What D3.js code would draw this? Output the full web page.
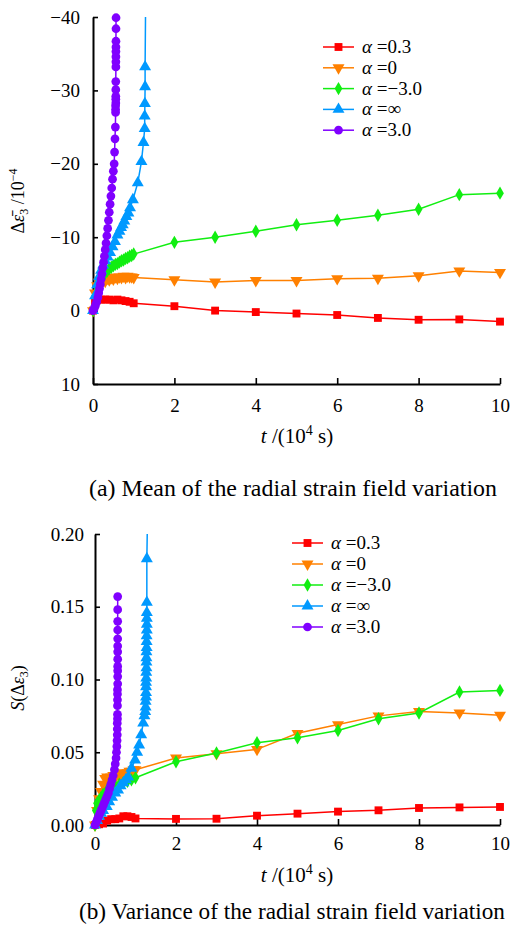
<!DOCTYPE html>
<html><head><meta charset="utf-8">
<script src="https://cdn.jsdelivr.net/npm/d3@7"></script>
<style>
body{margin:0;background:#fff;}
svg text{font-family:"Liberation Serif","Times New Roman",serif;fill:#000;}
</style>
</head><body>
<svg id="c" width="512" height="927"></svg>
<script>
// ---------- data ----------
const xTicks = [0, 2, 4, 6, 8, 10];
const meanYTicks = [-40, -30, -20, -10, 0, 10];
const varYTicks = [0, 0.05, 0.10, 0.15, 0.20];
const legendAlpha = ["0.3", "0", "\u22123.0", "\u221e", "3.0"];

// (a) mean of radial strain field variation (units 1e-4), t in 1e4 s
const meanT_03 = [0, 0.05, 0.1, 0.2, 0.3, 0.4, 0.5, 0.6, 0.7, 0.8, 0.9, 1, 2, 3, 4, 5, 6, 7, 8, 9, 10];
const meanV_03 = [0, -1.2, -1.4, -1.5, -1.5, -1.5, -1.4, -1.5, -1.4, -1.3, -1.2, -1.0, -0.6, 0, 0.2, 0.4, 0.6, 1.0, 1.25, 1.2, 1.5];
const meanT_0 = [0, 0.05, 0.1, 0.15, 0.2, 0.25, 0.3, 0.35, 0.4, 0.45, 0.5, 0.55, 0.6, 0.65, 0.7, 0.75, 0.8, 0.85, 0.9, 0.95, 1, 2, 3, 4, 5, 6, 7, 8, 9, 10];
const meanV_0 = [0, -2.4, -3.4, -3.9, -3.8, -4.2, -4.0, -4.4, -4.2, -4.5, -4.3, -4.6, -4.4, -4.6, -4.5, -4.7, -4.5, -4.7, -4.6, -4.6, -4.5, -4.2, -3.9, -4.1, -4.1, -4.35, -4.4, -4.75, -5.4, -5.2];
const meanT_m3 = [0, 0.05, 0.1, 0.15, 0.2, 0.25, 0.3, 0.35, 0.4, 0.45, 0.5, 0.55, 0.6, 0.65, 0.7, 0.75, 0.8, 0.85, 0.9, 0.95, 1, 2, 3, 4, 5, 6, 7, 8, 9, 10];
const meanV_m3 = [0, -2.0, -3.2, -3.9, -4.4, -4.8, -5.1, -5.4, -5.7, -5.9, -6.1, -6.3, -6.4, -6.6, -6.8, -6.9, -7.1, -7.2, -7.4, -7.5, -7.7, -9.3, -10.0, -10.8, -11.7, -12.3, -13.0, -13.8, -15.8, -16.0];
const meanT_inf = [0, 0.05, 0.1, 0.15, 0.2, 0.25, 0.3, 0.36, 0.42, 0.48, 0.54, 0.6, 0.65, 0.69, 0.73, 0.77, 0.82, 0.87, 0.91, 0.98, 1.1, 1.19, 1.24, 1.27, 1.27, 1.275, 1.28, 1.28];
const meanV_inf = [0, -2.0, -3.5, -4.6, -5.5, -6.2, -6.8, -7.3, -7.9, -8.7, -9.4, -10.3, -10.8, -11.3, -11.7, -12.2, -12.8, -13.3, -14.0, -15.1, -17.4, -20.3, -22.9, -24.8, -26.5, -28.2, -30.5, -33.2];
const meanTail_inf = [1.29, -40];
const meanT_3 = [0, 0.03, 0.06, 0.09, 0.12, 0.14, 0.16, 0.18, 0.20, 0.22, 0.24, 0.26, 0.28, 0.30, 0.32, 0.34, 0.36, 0.38, 0.40, 0.42, 0.44, 0.46, 0.48, 0.50, 0.52, 0.53, 0.54, 0.55, 0.555, 0.555, 0.555, 0.56, 0.56, 0.56, 0.56, 0.56, 0.562, 0.562, 0.563, 0.563, 0.564, 0.564, 0.565, 0.566];
const meanV_3 = [0, -0.3, -0.7, -1.2, -1.8, -2.4, -3.0, -3.6, -4.3, -5.0, -5.8, -6.6, -7.4, -8.3, -9.2, -10.2, -11.2, -12.3, -13.4, -14.5, -15.6, -16.7, -17.9, -19.0, -20.0, -21.6, -23.4, -25.0, -27.0, -27.4, -27.9, -28.3, -28.8, -29.2, -30.1, -31.2, -33.2, -33.9, -34.6, -35.3, -35.9, -36.7, -38.4, -39.9];

// (b) variance of radial strain field variation
const varT_03 = [0, 0.1, 0.2, 0.3, 0.4, 0.5, 0.6, 0.7, 0.8, 0.9, 1, 2, 3, 4, 5, 6, 7, 8, 9, 10];
const varV_03 = [0, 0.0005, 0.001, 0.003, 0.004, 0.004, 0.0045, 0.006, 0.006, 0.0055, 0.0045, 0.0042, 0.0043, 0.0064, 0.0078, 0.0092, 0.0101, 0.0117, 0.0121, 0.0124];
const varT_0 = [0, 0.05, 0.1, 0.15, 0.2, 0.25, 0.3, 0.35, 0.4, 0.45, 0.5, 0.55, 0.6, 0.65, 0.7, 0.75, 0.8, 0.85, 0.9, 0.95, 1, 2, 3, 4, 5, 6, 7, 8, 9, 10];
const varV_0 = [0, 0.010, 0.018, 0.023, 0.028, 0.032, 0.033, 0.031, 0.033, 0.034, 0.033, 0.035, 0.034, 0.035, 0.036, 0.035, 0.036, 0.037, 0.037, 0.038, 0.038, 0.046, 0.049, 0.052, 0.063, 0.069, 0.075, 0.078, 0.077, 0.0755];
const varT_m3 = [0, 0.02, 0.05, 0.1, 0.15, 0.2, 0.3, 0.4, 0.5, 0.6, 0.7, 0.8, 0.9, 1, 2, 3, 4, 5, 6, 7, 8, 9, 10];
const varV_m3 = [0, 0.010, 0.015, 0.017, 0.019, 0.021, 0.024, 0.026, 0.027, 0.028, 0.029, 0.030, 0.031, 0.0325, 0.0435, 0.0495, 0.0566, 0.060, 0.065, 0.073, 0.077, 0.0914, 0.0925];
const varT_inf = [0, 0.05, 0.1, 0.15, 0.2, 0.29, 0.35, 0.42, 0.5, 0.57, 0.63, 0.7, 0.76, 0.82, 0.9, 0.99, 1.04, 1.09, 1.14, 1.19, 1.22, 1.24, 1.25, 1.25, 1.26, 1.26, 1.26, 1.26, 1.265, 1.265, 1.27, 1.27, 1.27, 1.27, 1.275, 1.275, 1.275, 1.28, 1.28, 1.28, 1.28, 1.28, 1.28];
const varV_inf = [0, 0.003, 0.006, 0.008, 0.010, 0.0126, 0.016, 0.019, 0.022, 0.024, 0.027, 0.029, 0.031, 0.033, 0.039, 0.0447, 0.050, 0.055, 0.062, 0.070, 0.075, 0.078, 0.081, 0.085, 0.088, 0.091, 0.095, 0.098, 0.101, 0.105, 0.108, 0.112, 0.115, 0.119, 0.122, 0.126, 0.130, 0.134, 0.138, 0.142, 0.146, 0.153, 0.183];
const varTail_inf = [1.29, 0.20];
const varT_3 = [0, 0.03, 0.06, 0.09, 0.12, 0.15, 0.18, 0.21, 0.24, 0.27, 0.30, 0.33, 0.36, 0.39, 0.42, 0.45, 0.48, 0.50, 0.52, 0.53, 0.54, 0.545, 0.55, 0.55, 0.55, 0.555, 0.555, 0.555, 0.555, 0.555, 0.555, 0.56, 0.56, 0.56, 0.56, 0.56, 0.56, 0.56, 0.56, 0.56, 0.56, 0.56, 0.56];
const varV_3 = [0, 0.002, 0.004, 0.006, 0.008, 0.010, 0.012, 0.014, 0.016, 0.018, 0.020, 0.022, 0.025, 0.028, 0.031, 0.034, 0.038, 0.042, 0.046, 0.050, 0.054, 0.058, 0.062, 0.066, 0.070, 0.073, 0.076, 0.082, 0.086, 0.090, 0.093, 0.097, 0.102, 0.106, 0.109, 0.114, 0.119, 0.123, 0.128, 0.134, 0.140, 0.148, 0.157];
const varTail_3 = [0.56, 0.20];

// ---------- styles ----------
const colors = ["#ff0000", "#ff8000", "#11ee11", "#0099ff", "#8000ff"];
const symbols = [
  {type: d3.symbolSquare, size: 62, rot: 0},
  {type: d3.symbolTriangle, size: 62, rot: 180},
  {type: d3.symbolDiamond, size: 52, rot: 0},
  {type: d3.symbolTriangle, size: 62, rot: 0},
  {type: d3.symbolCircle, size: 60, rot: 0}
];

const svg = d3.select("#c");
const zip = (t, v) => t.map((d, i) => [d, v[i]]);

function panel(cfg) {
  const x = d3.scaleLinear().domain([0, 10]).range(cfg.xr);
  const y = d3.scaleLinear().domain(cfg.yd).range(cfg.yr);
  const g = svg.append("g");

  const ya = g.append("g").attr("transform", `translate(${cfg.xr[0]},0)`)
    .call(d3.axisLeft(y).tickValues(cfg.yTicks).tickSizeInner(-5).tickSizeOuter(0)
      .tickPadding(cfg.yPad).tickFormat(cfg.yFmt));
  const xa = g.append("g").attr("transform", `translate(0,${cfg.yr[0]})`)
    .call(d3.axisBottom(x).tickValues(xTicks).tickSizeInner(-6).tickSizeOuter(0)
      .tickPadding(cfg.xPad).tickFormat(d3.format("d")));
  [ya, xa].forEach(a => {
    a.select(".domain").attr("stroke", "#000").attr("stroke-width", 2);
    a.selectAll(".tick line").attr("stroke", "#000").attr("stroke-width", 1.6);
    a.selectAll(".tick text").attr("font-size", 19).attr("font-family", "Liberation Serif");
  });

  const line = d3.line().x(d => x(d[0])).y(d => y(d[1]));
  cfg.series.forEach((s, i) => {
    const pts = zip(s.t, s.v);
    const linePts = s.tail ? pts.concat([s.tail]) : pts;
    g.append("path").datum(linePts).attr("d", line)
      .attr("fill", "none").attr("stroke", colors[i]).attr("stroke-width", 1.5);
    const sym = d3.symbol().type(symbols[i].type).size(symbols[i].size);
    g.append("g").selectAll("path").data(pts).join("path")
      .attr("d", sym)
      .attr("transform", d => `translate(${x(d[0])},${y(d[1])}) rotate(${symbols[i].rot})`)
      .attr("fill", colors[i]);
  });

  legendAlpha.forEach((lab, i) => {
    const ly = cfg.leg[1] + i * cfg.legDy;
    const lx = cfg.leg[0];
    g.append("line").attr("x1", lx).attr("x2", lx + 31).attr("y1", ly).attr("y2", ly)
      .attr("stroke", colors[i]).attr("stroke-width", 1.5);
    g.append("path").attr("d", d3.symbol().type(symbols[i].type).size(symbols[i].size))
      .attr("transform", `translate(${lx + 15.5},${ly}) rotate(${symbols[i].rot})`)
      .attr("fill", colors[i]);
    const t = g.append("text").attr("x", lx + 39).attr("y", ly + 6).attr("font-size", 19);
    t.append("tspan").attr("font-style", "italic").text("\u03b1");
    t.append("tspan").text(" =" + lab);
  });

  const xl = g.append("text").attr("x", cfg.xl[0]).attr("y", cfg.xl[1])
    .attr("text-anchor", "middle").attr("font-size", 21);
  xl.append("tspan").attr("font-style", "italic").text("t");
  xl.append("tspan").text(" /(10");
  xl.append("tspan").attr("font-size", 14).attr("dy", -8).text("4");
  xl.append("tspan").attr("dy", 8).text(" s)");

  g.append("text").attr("x", cfg.cap[0]).attr("y", cfg.cap[1])
    .attr("text-anchor", "middle").attr("font-size", 23)
    .attr("textLength", cfg.capW).attr("lengthAdjust", "spacingAndGlyphs").text(cfg.caption);

  return g;
}

panel({
  xr: [93, 500], yd: [10, -40], yr: [384, 17], yTicks: meanYTicks,
  yFmt: d3.format("d"), yPad: 13, xPad: 15,
  series: [
    {t: meanT_03, v: meanV_03},
    {t: meanT_0, v: meanV_0},
    {t: meanT_m3, v: meanV_m3},
    {t: meanT_inf, v: meanV_inf, tail: meanTail_inf},
    {t: meanT_3, v: meanV_3}
  ],
  leg: [323, 47], legDy: 20.8,
  xl: [297, 443], cap: [293, 496], capW: 408,
  caption: "(a) Mean of the radial strain field variation"
});

panel({
  xr: [95, 500], yd: [0, 0.20], yr: [825, 534], yTicks: varYTicks,
  yFmt: d3.format(".2f"), yPad: 11, xPad: 12,
  series: [
    {t: varT_03, v: varV_03},
    {t: varT_0, v: varV_0},
    {t: varT_m3, v: varV_m3},
    {t: varT_inf, v: varV_inf, tail: varTail_inf},
    {t: varT_3, v: varV_3}
  ],
  leg: [292, 543], legDy: 21,
  xl: [297, 882], cap: [292, 919], capW: 426,
  caption: "(b) Variance of the radial strain field variation"
});

const yl1 = svg.append("text").attr("transform", "translate(24,201) rotate(-90)")
  .attr("text-anchor", "middle").attr("font-size", 18);
yl1.append("tspan").text("\u0394");
yl1.append("tspan").attr("font-style", "italic").text("\u03b5\u0304");
yl1.append("tspan").attr("font-size", 12).attr("dy", 4).text("3");
yl1.append("tspan").attr("dy", -4).text(" /10");
yl1.append("tspan").attr("font-size", 12).attr("dy", -7).text("\u22124");

const yl2 = svg.append("text").attr("transform", "translate(24,688) rotate(-90)")
  .attr("text-anchor", "middle").attr("font-size", 18);
yl2.append("tspan").attr("font-style", "italic").text("S");
yl2.append("tspan").text("(\u0394");
yl2.append("tspan").attr("font-style", "italic").text("\u03b5");
yl2.append("tspan").attr("font-size", 12).attr("dy", 4).text("3");
yl2.append("tspan").attr("dy", -4).text(")");
</script>
</body></html>
